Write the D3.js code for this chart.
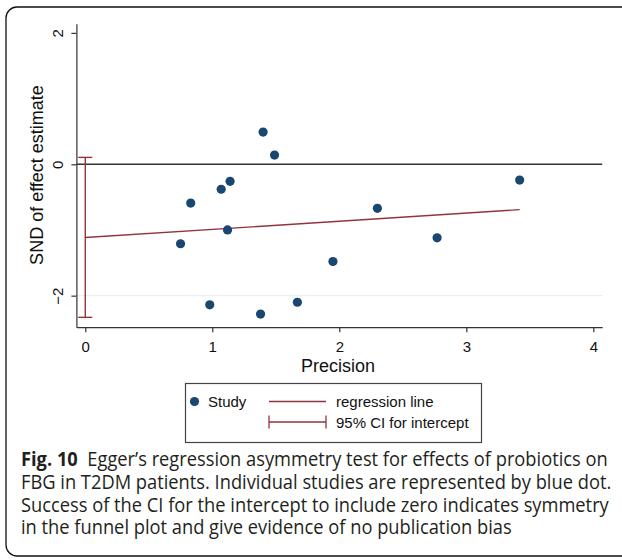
<!DOCTYPE html>
<html>
<head>
<meta charset="utf-8">
<script src="https://cdn.jsdelivr.net/npm/d3@7"></script>
<style>
  body { margin: 0; background: #fff; }
  svg { display: block; }
</style>
</head>
<body>
<svg id="chart" width="622" height="560"></svg>
<script>
// study points
var precision = [0.75, 0.83, 1.07, 1.14, 1.12, 0.98, 1.38, 1.67, 1.40, 1.49, 1.95, 2.30, 2.77, 3.42];
var snd       = [-1.21, -0.59, -0.38, -0.26, -1.00, -2.14, -2.28, -2.10, 0.49, 0.14, -1.48, -0.67, -1.12, -0.24];

// regression line (Egger) and CI for intercept
var regIntercept = -1.115;
var regSlope = 0.124;
var ciIntercept = [-2.33, 0.105];

var xTicks = [0, 1, 2, 3, 4];
var yTicks = [-2, 0, 2];
var yGrid = [-2];

var legendLabels = ["Study", "regression line", "95% CI for intercept"];

var captionLines = [
  ["Fig. 10", "  Egger\u2019s regression asymmetry test for effects of probiotics on"],
  ["", "FBG in T2DM patients. Individual studies are represented by blue dot."],
  ["", "Success of the CI for the intercept to include zero indicates symmetry"],
  ["", "in the funnel plot and give evidence of no publication bias"]
];

var svg = d3.select("#chart");
var navy = "#1a476f", maroon = "#90353b";
var plotFont = "Liberation Sans, Arial, sans-serif";

// outer frame (runs off the right edge)
svg.append("rect")
  .attr("x", 6).attr("y", 7)
  .attr("width", 660).attr("height", 549)
  .attr("rx", 11).attr("ry", 11)
  .attr("fill", "none").attr("stroke", "#111").attr("stroke-width", 1.3);

var x = d3.scaleLinear().domain([-0.07, 4.07]).range([76.4, 602.2]);
var y = d3.scaleLinear().domain([-2.48, 2.14]).range([327.2, 23.7]);

var g = svg.append("g");

// grid line
g.selectAll(".grid").data(yGrid).enter().append("line")
  .attr("x1", x.range()[0]).attr("x2", x.range()[1])
  .attr("y1", function(d) { return y(d); }).attr("y2", function(d) { return y(d); })
  .attr("stroke", "#e4eef2").attr("stroke-width", 1);

// zero line
g.append("line")
  .attr("x1", x.range()[0]).attr("x2", x.range()[1])
  .attr("y1", y(0)).attr("y2", y(0))
  .attr("stroke", "#333").attr("stroke-width", 1.4);

// axes
var xAxis = g.append("g")
  .attr("transform", "translate(0," + y.range()[0] + ")")
  .call(d3.axisBottom(x).tickValues(xTicks).tickFormat(d3.format("d"))
    .tickSize(5).tickSizeOuter(0).tickPadding(9));
xAxis.selectAll("text").attr("font-family", plotFont).attr("font-size", 15).attr("fill", "#111");

var yAxis = g.append("g")
  .attr("transform", "translate(" + x.range()[0] + ",0)")
  .call(d3.axisLeft(y).tickValues(yTicks).tickFormat(d3.format("d"))
    .tickSize(5).tickSizeOuter(0));
yAxis.selectAll("text")
  .attr("transform", "rotate(-90)")
  .attr("x", 0).attr("y", -13).attr("dy", 0)
  .attr("text-anchor", "middle")
  .attr("font-family", plotFont).attr("font-size", 15).attr("fill", "#111");

g.selectAll(".domain, .tick line").attr("stroke", "#333").attr("stroke-width", 1.2);

// axis titles
svg.append("text")
  .attr("x", 338).attr("y", 371.5)
  .attr("text-anchor", "middle")
  .attr("font-family", plotFont).attr("font-size", 18)
  .attr("fill", "#111")
  .text("Precision");

svg.append("text")
  .attr("transform", "translate(43,175) rotate(-90)")
  .attr("text-anchor", "middle")
  .attr("font-family", plotFont).attr("font-size", 18)
  .attr("fill", "#111")
  .text("SND of effect estimate");

// CI for intercept
var capW = 7;
g.append("line")
  .attr("x1", x(0)).attr("x2", x(0))
  .attr("y1", y(ciIntercept[0])).attr("y2", y(ciIntercept[1]))
  .attr("stroke", maroon).attr("stroke-width", 1.4);
g.selectAll(".cap").data(ciIntercept).enter().append("line")
  .attr("x1", x(0) - capW).attr("x2", x(0) + capW)
  .attr("y1", function(d) { return y(d); }).attr("y2", function(d) { return y(d); })
  .attr("stroke", maroon).attr("stroke-width", 1.4);

// regression line
var xMax = d3.max(precision);
g.append("line")
  .attr("x1", x(0)).attr("y1", y(regIntercept))
  .attr("x2", x(xMax)).attr("y2", y(regIntercept + regSlope * xMax))
  .attr("stroke", maroon).attr("stroke-width", 1.4);

// studies
g.selectAll(".dot").data(precision).enter().append("circle")
  .attr("cx", function(d) { return x(d); })
  .attr("cy", function(d, i) { return y(snd[i]); })
  .attr("r", 4.6)
  .attr("fill", navy);

// legend
var lg = svg.append("g").attr("font-family", plotFont).attr("font-size", 15).attr("fill", "#111");
lg.append("rect")
  .attr("x", 185.5).attr("y", 383.5).attr("width", 296).attr("height", 59)
  .attr("fill", "#fff").attr("stroke", "#444").attr("stroke-width", 1.2);
lg.append("circle").attr("cx", 194.5).attr("cy", 401.5).attr("r", 4.6).attr("fill", navy);
lg.append("text").attr("x", 208).attr("y", 406.5).text(legendLabels[0]);
lg.append("line").attr("x1", 269).attr("x2", 326).attr("y1", 401.5).attr("y2", 401.5)
  .attr("stroke", maroon).attr("stroke-width", 1.3);
lg.append("text").attr("x", 336).attr("y", 406.5).text(legendLabels[1]);
lg.append("line").attr("x1", 269).attr("x2", 326).attr("y1", 422).attr("y2", 422)
  .attr("stroke", maroon).attr("stroke-width", 1.3);
[269, 326].forEach(function(cx) {
  lg.append("line").attr("x1", cx).attr("x2", cx).attr("y1", 415.5).attr("y2", 428.5)
    .attr("stroke", maroon).attr("stroke-width", 1.3);
});
lg.append("text").attr("x", 336).attr("y", 428).text(legendLabels[2]);

// caption: condense horizontally so the first line spans the frame like the original
var cap = svg.append("g").attr("font-family", "Open Sans, Noto Sans, sans-serif").attr("font-size", 20).attr("fill", "#231f20");
var capLines = captionLines.map(function(parts, i) {
  var t = cap.append("text")
    .attr("x", 0).attr("y", 0)
    .attr("xml:space", "preserve");
  if (parts[0]) t.append("tspan").attr("font-weight", "bold").text(parts[0]);
  t.append("tspan").text(parts[1]);
  return t;
});
var k = 587 / capLines[0].node().getComputedTextLength();
capLines.forEach(function(t, i) {
  t.attr("transform", "translate(21," + (466 + i * 22.8) + ") scale(" + k + ",1)");
});
</script>
</body>
</html>
